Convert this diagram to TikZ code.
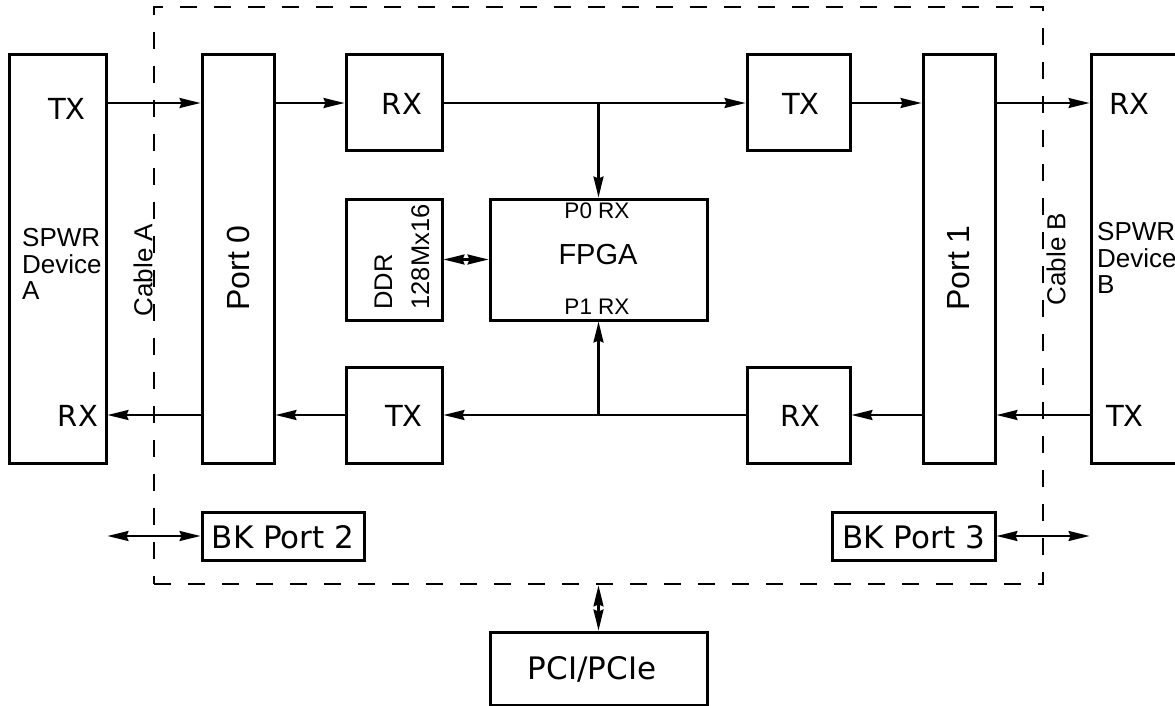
\documentclass[tikz,border=0pt]{standalone}
\usepackage{fontspec}
\setmainfont{Liberation Sans}
\newfontfamily\djv{DejaVu Sans}
\usetikzlibrary{arrows.meta}
\tikzset{
  x=1pt, y=-1pt,
  box/.style={draw, line width=3pt, inner sep=0pt},
  tip/.tip={Stealth[length=21pt,width=10pt,inset=2pt]},
  arr/.style={line width=2.2pt, -tip},
  darr/.style={line width=2.2pt, tip-tip},
  frm/.style={draw, line width=2.8pt, dash pattern=on 17pt off 17pt, inner sep=0pt},
  lbl/.style={inner sep=0pt},
  big/.style={font=\djv\fontsize{29}{30}\selectfont},
  bkf/.style={font=\djv\fontsize{31}{32}\selectfont},
}
\begin{document}
\begin{tikzpicture}
\useasboundingbox (0,0) rectangle (1175,706);
\clip (0,0) rectangle (1175,706);
% frame
\node[frm, minimum width=889pt, minimum height=577pt] (frame) at (598.5,295.5) {};
% boxes
\node[box, minimum width=97pt, minimum height=408pt] (devA) at (57.5,259) {};
\node[box, minimum width=72pt, minimum height=408pt] (port0) at (238,259) {};
\node[box, minimum width=96pt, minimum height=96pt] (rxT) at (394,103) {};
\node[box, minimum width=103pt, minimum height=96pt] (txT) at (798.5,103) {};
\node[box, minimum width=72pt, minimum height=408pt] (port1) at (959,259) {};
\node[box, minimum width=109pt, minimum height=408pt] (devB) at (1145.5,259) {};
\node[box, minimum width=96pt, minimum height=96pt] (txB) at (394,415) {};
\node[box, minimum width=103pt, minimum height=96pt] (rxB) at (798.5,415) {};
\node[box, minimum width=217pt, minimum height=121pt] (fpga) at (598.5,259.5) {};
\node[box, minimum width=96pt, minimum height=121pt] (ddr) at (394,259.5) {};
\node[box, minimum width=162pt, minimum height=48pt] (bk2) at (283,536) {};
\node[box, minimum width=163pt, minimum height=48pt] (bk3) at (913.5,536) {};
\node[box, minimum width=217pt, minimum height=73pt] (pci) at (598.5,668.5) {};
% labels
\node[lbl, big] (tA) at (67,109) {TX};
\node[lbl, big] (rA) at (78,416) {RX};
\node[lbl, big] (rB) at (1129,104) {RX};
\node[lbl, big] (tB) at (1125,416) {TX};
\node[lbl, big] (rxTl) at (402,104) {RX};
\node[lbl, big] (txTl) at (801,104) {TX};
\node[lbl, big] (txBl) at (404,416) {TX};
\node[lbl, big] (rxBl) at (800,416) {RX};
\node[lbl, anchor=west, align=left, font=\fontsize{26}{26.5}\selectfont] (sA) at (22,264) {SPWR\\Device\\A};
\node[lbl, anchor=west, align=left, font=\fontsize{26}{26.5}\selectfont] (sB) at (1097,258) {SPWR\\Device\\B};
\node[lbl, rotate=90, font=\fontsize{26}{28}\selectfont] (cabA) at (143,270) {Cable A};
\node[lbl, rotate=90, font=\fontsize{26}{28}\selectfont] (cabB) at (1056,259) {Cable B};
\node[lbl, rotate=90, font=\fontsize{32}{33}\selectfont] (p0l) at (238,268) {Port 0};
\node[lbl, rotate=90, font=\fontsize{32}{33}\selectfont] (p1l) at (959,268) {Port 1};
\node[lbl, font=\fontsize{29}{30}\selectfont] (fl) at (598,255) {FPGA};
\node[lbl, font=\fontsize{22.5}{23}\selectfont] (p0rx) at (597,211) {P0 RX};
\node[lbl, font=\fontsize{22.5}{23}\selectfont] (p1rx) at (597,307) {P1 RX};
\node[lbl, rotate=90, align=left, font=\fontsize{25.5}{37}\selectfont] (ddrl) at (402,257) {DDR\\128Mx16};
\node[lbl, bkf] (bk2l) at (283,537) {BK Port 2};
\node[lbl, bkf] (bk3l) at (913.5,537) {BK Port 3};
\node[lbl, bkf] (pcil) at (592,669) {PCI/PCIe};
% connectors
\draw[arr] (devA.east |- rxT) -- (port0.west |- rxT);
\draw[arr] (port0.east |- rxT) -- (rxT.west);
\draw[arr] (rxT.east) -- (txT.west);
\draw[arr] (rxT.east -| fpga.north) -- (fpga.north);
\draw[arr] (txT.east) -- (port1.west |- txT);
\draw[arr] (port1.east |- txT) -- (devB.west |- txT);
\draw[arr] (devB.west |- rxB) -- (port1.east |- rxB);
\draw[arr] (port1.west |- rxB) -- (rxB.east);
\draw[arr] (rxB.west) -- (txB.east);
\draw[arr] (fpga.south |- txB) -- (fpga.south);
\draw[arr] (txB.west) -- (port0.east |- txB);
\draw[arr] (port0.west |- txB) -- (devA.east |- txB);
\draw[darr] (ddr.east) -- (fpga.west);
\draw[darr] (devA.east |- bk2) -- (bk2.west);
\draw[darr] (bk3.east) -- (devB.west |- bk3);
\draw[darr] (frame.south -| pci.north) -- (pci.north);
\end{tikzpicture}
\end{document}
